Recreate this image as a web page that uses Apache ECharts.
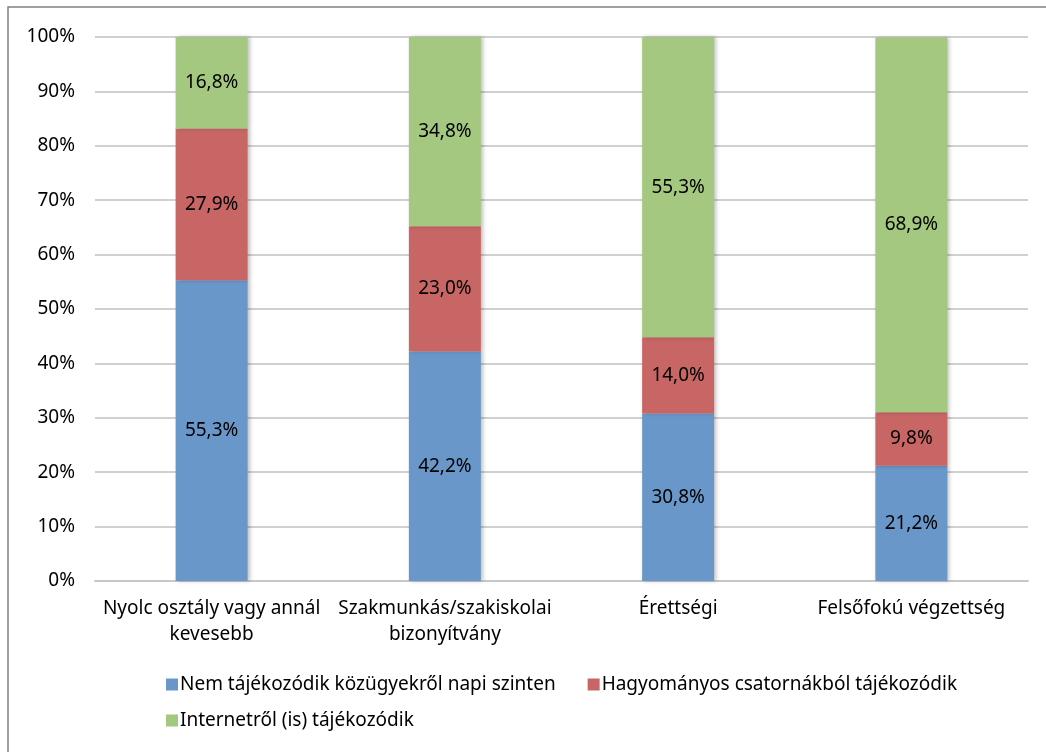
<!DOCTYPE html>
<html>
<head>
<meta charset="utf-8">
<script src="https://cdn.jsdelivr.net/npm/echarts@6/dist/echarts.min.js"></script>
<style>
html, body { margin: 0; padding: 0; background: #fff; }
#chart { width: 1046px; height: 752px; }
</style>
</head>
<body>
<div id="chart"></div>
<script>
// kategóriák és adatsorok
var categories = ['Nyolc osztály vagy annál\nkevesebb', 'Szakmunkás/szakiskolai\nbizonyítvány', 'Érettségi', 'Felsőfokú végzettség'];
var seriesNames = ['Nem tájékozódik közügyekről napi szinten', 'Hagyományos csatornákból tájékozódik', 'Internetről (is) tájékozódik'];
var nemTajekozodik = [55.3, 42.2, 30.8, 21.2];
var hagyomanyos = [27.9, 23.0, 14.0, 9.8];
var internet = [16.8, 34.8, 55.3, 68.9];
var yTicks = [0, 10, 20, 30, 40, 50, 60, 70, 80, 90, 100];

var colors = ['#6a97c9', '#c86565', '#a4c87f'];
var font = 'Noto Sans';
var fs = 19;

var myChart = echarts.init(document.getElementById('chart'));

function barSeries(name, data, color) {
	return {
		name: name,
		type: 'bar',
		stack: 'osszes',
		barWidth: 72,
		data: data,
		itemStyle: {
			color: color,
			shadowColor: 'rgba(0,0,0,0.25)',
			shadowBlur: 4,
			shadowOffsetX: 2
		},
		label: {
			show: true,
			position: 'inside',
			color: '#000',
			fontFamily: font,
			fontSize: fs,
			formatter: function(p) {
				return p.value.toFixed(1).replace('.', ',') + '%';
			}
		}
	};
}

var option = {
	animation: false,
	textStyle: { fontFamily: font },
	graphic: [{
		type: 'rect',
		shape: { x: 8, y: 7, width: 1100, height: 800 },
		style: { fill: 'none', stroke: '#808080', lineWidth: 1.5 },
		silent: true
	}],
	grid: {
		left: 95,
		right: 18,
		top: 37,
		bottom: 171
	},
	legend: [{
		data: seriesNames.slice(0, 2),
		left: 161,
		top: 670,
		itemWidth: 12,
		itemHeight: 12,
		itemGap: 32,
		icon: 'rect',
		textStyle: { color: '#000', fontSize: fs, fontFamily: font, padding: [0, 0, 0, -3] }
	}, {
		data: seriesNames.slice(2),
		left: 161,
		top: 706,
		itemWidth: 12,
		itemHeight: 12,
		icon: 'rect',
		textStyle: { color: '#000', fontSize: fs, fontFamily: font, padding: [0, 0, 0, -3] }
	}],
	xAxis: {
		type: 'category',
		data: categories,
		axisLine: { lineStyle: { color: '#c8c8c8', width: 2 } },
		axisTick: { show: false },
		axisLabel: {
			color: '#000',
			fontSize: fs,
			fontFamily: font,
			lineHeight: 26,
			margin: 15,
			interval: 0
		}
	},
	yAxis: {
		type: 'value',
		min: 0,
		max: 100,
		interval: 10,
		axisLine: { show: false },
		axisTick: { show: false },
		splitLine: { lineStyle: { color: '#d0d0d0', width: 2 } },
		axisLabel: {
			color: '#000',
			fontSize: fs,
			fontFamily: font,
			margin: 20,
			formatter: function(v) {
				return yTicks.indexOf(v) >= 0 ? v + '%' : '';
			}
		}
	},
	series: [
		barSeries(seriesNames[0], nemTajekozodik, colors[0]),
		barSeries(seriesNames[1], hagyomanyos, colors[1]),
		barSeries(seriesNames[2], internet, colors[2])
	]
};

myChart.setOption(option);
</script>
</body>
</html>
